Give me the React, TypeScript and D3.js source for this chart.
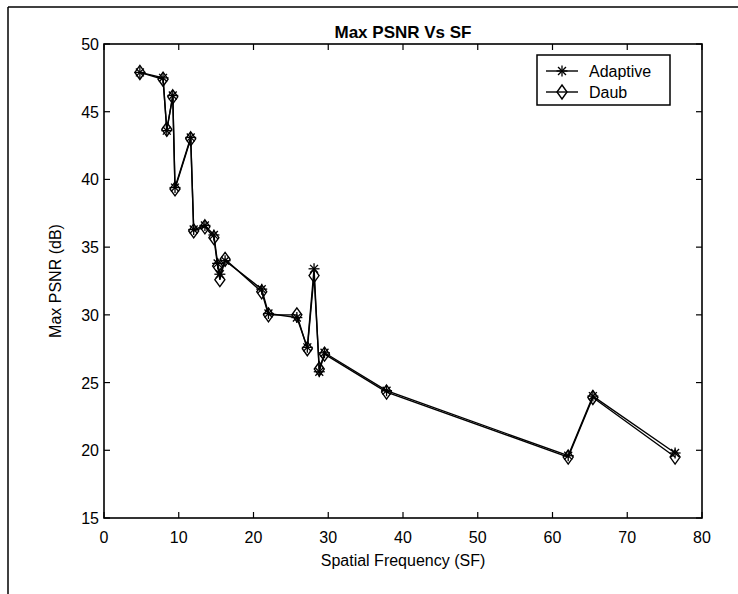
import React from 'react';
import * as d3 from 'd3';

const sf = [4.8, 7.9, 8.4, 9.2, 9.5, 11.6, 12.0, 13.5, 14.7, 15.2, 15.5, 16.2, 21.1, 22.0, 25.8, 27.2, 28.1, 28.8, 29.5, 37.8, 62.1, 65.4, 76.4];
const adaptive = [47.9, 47.5, 43.6, 46.2, 39.4, 43.1, 36.3, 36.6, 35.9, 33.8, 33.0, 34.0, 31.9, 30.1, 29.8, 27.6, 33.4, 25.8, 27.2, 24.4, 19.6, 24.0, 19.8];
const daub = [47.9, 47.4, 43.7, 46.1, 39.3, 43.0, 36.2, 36.5, 35.7, 33.6, 32.6, 34.1, 31.7, 30.0, 30.0, 27.5, 32.9, 26.0, 27.1, 24.3, 19.5, 23.9, 19.5];
const xTicks = [0, 10, 20, 30, 40, 50, 60, 70, 80];
const yTicks = [15, 20, 25, 30, 35, 40, 45, 50];

const W = 738, H = 594;
const left = 104, right = 702, top = 44, bottom = 518;
const font = "'Liberation Sans', Arial, sans-serif";

function Star({ x, y, r = 5.5 }) {
  const d = r * 0.72;
  return (
    <g stroke="#000" strokeWidth={1.3}>
      <line x1={x - r} y1={y} x2={x + r} y2={y} />
      <line x1={x} y1={y - r} x2={x} y2={y + r} />
      <line x1={x - d} y1={y - d} x2={x + d} y2={y + d} />
      <line x1={x - d} y1={y + d} x2={x + d} y2={y - d} />
    </g>
  );
}

function Diamond({ x, y, w = 5, h = 7 }) {
  return (
    <path d={`M${x},${y - h}L${x + w},${y}L${x},${y + h}L${x - w},${y}Z`}
      fill="none" stroke="#000" strokeWidth={1.4} />
  );
}

export default function App() {
  const x = d3.scaleLinear().domain([0, 80]).range([left, right]);
  const y = d3.scaleLinear().domain([15, 50]).range([bottom, top]);
  const line = d3.line<number>().x((_, i) => x(sf[i])).y(d => y(d));

  return (
    <svg width={W} height={H} style={{ position: 'absolute', left: 0, top: 0, background: '#fff' }}
      fontFamily={font}>
      <rect x={0} y={0} width={W} height={H} fill="#fff" />
      {/* figure frame */}
      <line x1={8} y1={7} x2={W} y2={7} stroke="#000" strokeWidth={1.5} />
      <line x1={8} y1={7} x2={8} y2={H} stroke="#000" strokeWidth={1.5} />

      <text x={(left + right) / 2} y={38} textAnchor="middle" fontSize={17} fontWeight="bold">Max PSNR Vs SF</text>

      {/* axes box */}
      <rect x={left} y={top} width={right - left} height={bottom - top} fill="none" stroke="#000" strokeWidth={1.6} />
      {xTicks.map(t => (
        <g key={'x' + t}>
          <line x1={x(t)} x2={x(t)} y1={bottom} y2={bottom - 6} stroke="#000" strokeWidth={1.2} />
          <line x1={x(t)} x2={x(t)} y1={top} y2={top + 6} stroke="#000" strokeWidth={1.2} />
          <text x={x(t)} y={543} textAnchor="middle" fontSize={16}>{t}</text>
        </g>
      ))}
      {yTicks.map(t => (
        <g key={'y' + t}>
          <line x1={left} x2={left + 6} y1={y(t)} y2={y(t)} stroke="#000" strokeWidth={1.2} />
          <line x1={right} x2={right - 6} y1={y(t)} y2={y(t)} stroke="#000" strokeWidth={1.2} />
          <text x={left - 5} y={y(t) + 6} textAnchor="end" fontSize={16}>{t}</text>
        </g>
      ))}

      <text x={(left + right) / 2} y={566} textAnchor="middle" fontSize={16}>Spatial Frequency (SF)</text>
      <text transform={`translate(61,${(top + bottom) / 2}) rotate(-90)`} textAnchor="middle" fontSize={16}>Max PSNR (dB)</text>

      {/* series */}
      <path d={line(daub) || ''} fill="none" stroke="#000" strokeWidth={1.4} />
      <path d={line(adaptive) || ''} fill="none" stroke="#000" strokeWidth={1.4} />
      {daub.map((v, i) => <Diamond key={'d' + i} x={x(sf[i])} y={y(v)} />)}
      {adaptive.map((v, i) => <Star key={'a' + i} x={x(sf[i])} y={y(v)} />)}

      {/* legend */}
      <rect x={537} y={55} width={133} height={50} fill="#fff" stroke="#000" strokeWidth={1.5} />
      <line x1={546} x2={578} y1={71} y2={71} stroke="#000" strokeWidth={1.4} />
      <Star x={562} y={71} />
      <text x={589} y={77} fontSize={16}>Adaptive</text>
      <line x1={546} x2={578} y1={92} y2={92} stroke="#000" strokeWidth={1.4} />
      <Diamond x={562} y={92} />
      <text x={589} y={98} fontSize={16}>Daub</text>
    </svg>
  );
}
